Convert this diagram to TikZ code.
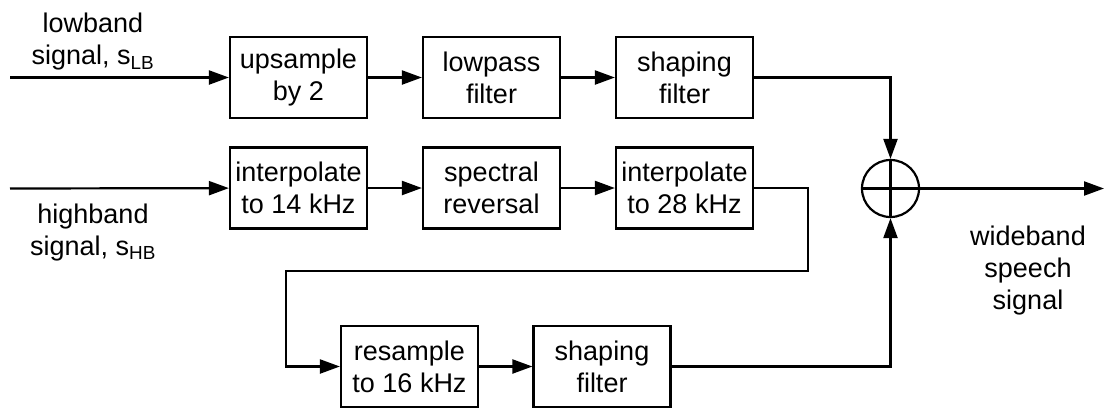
\documentclass[tikz,border=0pt]{standalone}
\usepackage{fontspec}
\setmainfont{Liberation Sans}
\usetikzlibrary{arrows.meta}
\begin{document}
\begin{tikzpicture}[x=1pt,y=-1pt,
  every node/.style={font=\fontsize{27}{32}\selectfont},
  blk/.style={draw,line width=2.2pt,minimum width=137pt,minimum height=81pt,align=center,inner sep=0pt},
  lbl/.style={align=center,inner sep=0pt},
  sumnode/.style={draw,circle,line width=2.2pt,minimum size=57pt,inner sep=0pt},
  arr/.style={line width=2.2pt,-{Triangle[length=20pt,width=14pt]}},
  ln/.style={line width=2.2pt}]
\useasboundingbox (0,0) rectangle (1104,408);
\node[blk] (up) at (298.5,77.5) {upsample\\by 2};
\node[blk] (lp) at (491.5,77.5) {lowpass\\filter};
\node[blk] (sh1) at (684.5,77.5) {shaping\\filter};
\node[blk] (i14) at (298.5,188) {interpolate\\to 14 kHz};
\node[blk] (sr) at (491.5,188) {spectral\\reversal};
\node[blk] (i28) at (684.5,188) {interpolate\\to 28 kHz};
\node[blk] (rs) at (409.5,366.5) {resample\\to 16 kHz};
\node[blk] (sh2) at (602,366.5) {shaping\\filter};
\node[sumnode] (sum) at (890.5,188.5) {};
\draw[ln] (sum.north) -- (sum.south);
\draw[ln] (sum.west) -- (sum.east);
\coordinate (inLB) at (10,77.5);
\coordinate (inHB) at (10,188.5);
\coordinate (out) at (1104,188.5);
\node[lbl] (lLB) at (93,42) {lowband\\signal, s\textsubscript{LB}};
\node[lbl] (lHB) at (93,232.5) {highband\\signal, s\textsubscript{HB}};
\node[lbl] (lWB) at (1028,270.7) {wideband\\speech\\signal};
\draw[arr] (inLB) -- (up);
\draw[arr] (up) -- (lp);
\draw[arr] (lp) -- (sh1);
\draw[arr] (sh1.east) -| (sum.north);
\draw[arr] (inHB) -- (i14);
\draw[arr] (i14) -- (sr);
\draw[arr] (sr) -- (i28);
\draw[arr] (i28.east) -- (808,188) -- (808,271) -- (286,271) |- (rs.west);
\draw[arr] (rs) -- (sh2);
\draw[arr] (sh2.east) -| (sum.south);
\draw[arr] (sum.east) -- (out);
\end{tikzpicture}
\end{document}
